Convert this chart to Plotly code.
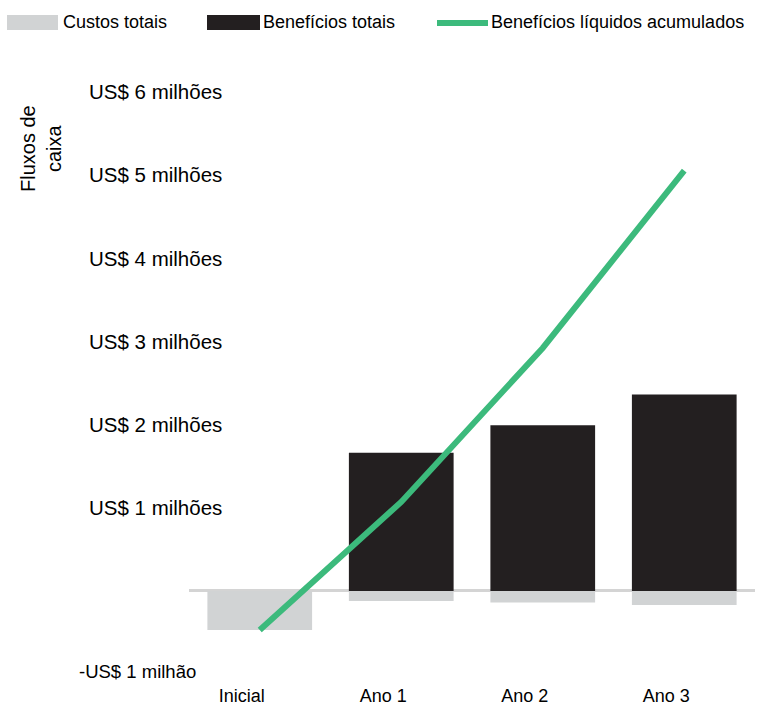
import plotly.graph_objects as go

# ---- data ----
categories = ["Inicial", "Ano 1", "Ano 2", "Ano 3"]
custos_totais = [-0.47, -0.12, -0.14, -0.17]          # US$ milhões
beneficios_totais = [0.0, 1.66, 1.99, 2.36]           # US$ milhões
beneficios_liquidos_acum = [-0.47, 1.07, 2.92, 5.05]  # US$ milhões
series_names = ["Custos totais", "Benefícios totais", "Benefícios líquidos acumulados"]
ytick_values = [6, 5, 4, 3, 2, 1, -1]
ytick_labels = ["US$ 6 milhões", "US$ 5 milhões", "US$ 4 milhões", "US$ 3 milhões",
                "US$ 2 milhões", "US$ 1 milhões", "-US$ 1 milhão"]
y_title = "Fluxos de<br>caixa"

# ---- style ----
W, H = 757, 706
ML, MR, MT, MB = 189, 2, 60, 26
GRAY = "#d1d3d4"
BLACK = "#231f20"
GREEN = "#3cba7c"
FONT = "Liberation Sans, Arial, sans-serif"

def px2x(px):
    return (px - ML) / (W - ML - MR)

def py2y(py):
    return (H - MB - py) / (H - MT - MB)

fig = go.Figure()
fig.add_trace(go.Bar(x=categories, y=beneficios_totais, name=series_names[1],
                     marker=dict(color=BLACK, line=dict(width=0))))
fig.add_trace(go.Bar(x=categories, y=custos_totais, name=series_names[0],
                     marker=dict(color=GRAY, line=dict(width=0))))
fig.add_trace(go.Scatter(x=categories, y=beneficios_liquidos_acum, name=series_names[2],
                         mode="lines", line=dict(color=GREEN, width=6)))

# y tick labels (left aligned, as in the reference)
annotations = []
for v, lab in zip(ytick_values, ytick_labels):
    positive = v > 0
    annotations.append(dict(x=px2x(87 if positive else 77), xref="paper", y=v, yref="y",
                            text=lab, showarrow=False, xanchor="left", yanchor="middle",
                            yshift=0 if positive else 3,
                            font=dict(size=20.5 if positive else 18.5, color="black", family=FONT)))

# y axis title
annotations.append(dict(x=px2x(41), xref="paper", y=py2y(148), yref="paper",
                        text=y_title, showarrow=False, textangle=-90,
                        xanchor="center", yanchor="middle",
                        font=dict(size=20, color="black", family=FONT)))

# custom legend
shapes = []
legend_y = 22
shapes.append(dict(type="rect", xref="paper", yref="paper",
                   x0=px2x(7), x1=px2x(58), y0=py2y(30), y1=py2y(15),
                   fillcolor=GRAY, line=dict(width=0)))
annotations.append(dict(x=px2x(61), xref="paper", y=py2y(legend_y), yref="paper",
                        text=series_names[0], showarrow=False, xanchor="left", yanchor="middle",
                        font=dict(size=18, color="black", family=FONT)))
shapes.append(dict(type="rect", xref="paper", yref="paper",
                   x0=px2x(207), x1=px2x(260), y0=py2y(30), y1=py2y(15),
                   fillcolor=BLACK, line=dict(width=0)))
annotations.append(dict(x=px2x(261), xref="paper", y=py2y(legend_y), yref="paper",
                        text=series_names[1], showarrow=False, xanchor="left", yanchor="middle",
                        font=dict(size=18, color="black", family=FONT)))
shapes.append(dict(type="line", xref="paper", yref="paper",
                   x0=px2x(437), x1=px2x(488), y0=py2y(23), y1=py2y(23),
                   line=dict(color=GREEN, width=6)))
annotations.append(dict(x=px2x(489), xref="paper", y=py2y(legend_y), yref="paper",
                        text=series_names[2], showarrow=False, xanchor="left", yanchor="middle",
                        font=dict(size=18, color="black", family=FONT)))

fig.update_layout(
    width=W, height=H,
    margin=dict(l=ML, r=MR, t=MT, b=MB, pad=0, autoexpand=False),
    barmode="relative", bargap=0.26,
    plot_bgcolor="white", paper_bgcolor="white",
    showlegend=False,
    font=dict(family=FONT, color="black"),
    annotations=annotations, shapes=shapes,
    xaxis=dict(range=[-0.5, 3.5], showgrid=False, showline=False, zeroline=False,
               automargin=False,
               ticks="", tickfont=dict(size=18, color="black", family=FONT),
               ticklabelshift=-18, ticklabelstandoff=3, fixedrange=True),
    yaxis=dict(range=[-1.07, 6.38], showgrid=False, showline=False, automargin=False,
               showticklabels=False, ticks="",
               zeroline=True, zerolinecolor="#d4d4d4", zerolinewidth=3, fixedrange=True),
)

fig.write_html("out.html")
